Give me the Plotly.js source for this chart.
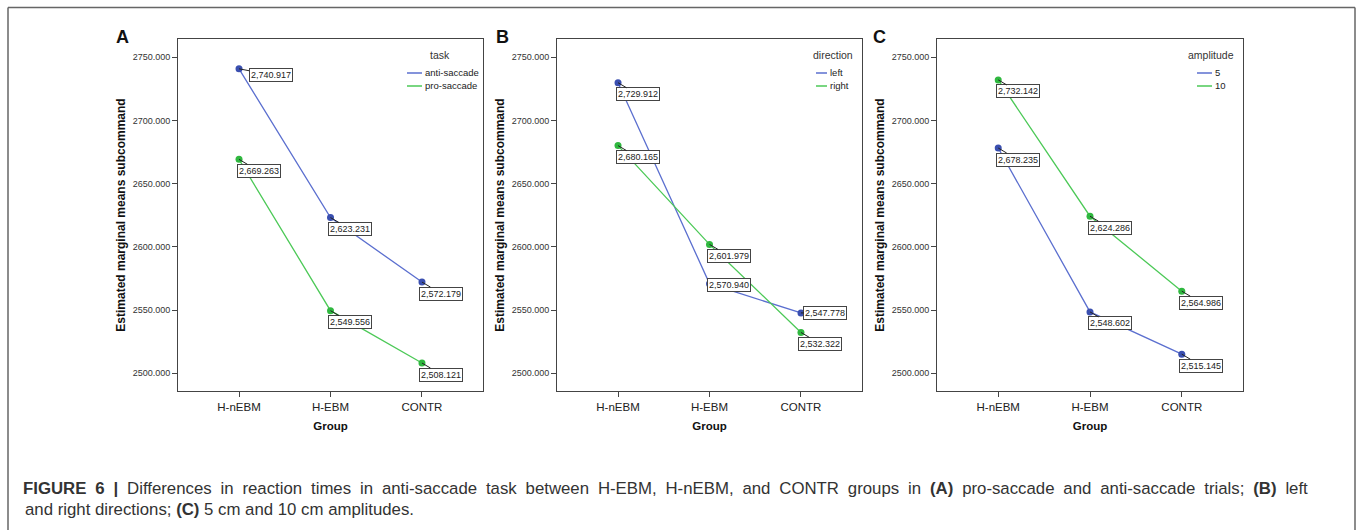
<!DOCTYPE html>
<html>
<head>
<meta charset="utf-8">
<script src="https://cdn.plot.ly/plotly-3.0.1.min.js"></script>
<style>
  html, body { margin: 0; padding: 0; background: #fff; }
  #chart { width: 1357px; height: 530px; }
</style>
</head>
<body>
<div id="chart"></div>
<script>
// ---------- data ----------
const groups = ['H-nEBM', 'H-EBM', 'CONTR'];
const taskAnti = [2740.917, 2623.231, 2572.179];
const taskPro = [2669.263, 2549.556, 2508.121];
const dirLeft = [2729.912, 2570.940, 2547.778];
const dirRight = [2680.165, 2601.979, 2532.322];
const amp5 = [2678.235, 2548.602, 2515.145];
const amp10 = [2732.142, 2624.286, 2564.986];
const yTickVals = [2500, 2550, 2600, 2650, 2700, 2750];

const panelLetters = ['A', 'B', 'C'];
const legendTitles = ['task', 'direction', 'amplitude'];
const seriesNames = [['anti-saccade', 'pro-saccade'], ['left', 'right'], ['5', '10']];
const seriesValues = [[taskAnti, taskPro], [dirLeft, dirRight], [amp5, amp10]];
const xTitle = 'Group';
const yTitle = 'Estimated marginal means subcommand';
const captionLine1 = '<b>FIGURE 6 |</b> Differences in reaction times in anti-saccade task between H-EBM, H-nEBM, and CONTR groups in <b>(A)</b> pro-saccade and anti-saccade trials; <b>(B)</b> left';
const captionLine2 = 'and right directions; <b>(C)</b> 5 cm and 10 cm amplitudes.';

// ---------- layout / style ----------
const W = 1357, H = 530;
const px = v => v / W;
const py = v => 1 - v / H;
const FONT = 'Liberation Sans, Arial, sans-serif';
const lineColors = ['#5b6fcf', '#4cc957'];
const markerColors = ['#3a4fb0', '#2fb83f'];
const domainsX = [[178, 483], [557, 862], [937, 1243]];
const domainY = [py(391), py(39)];
const letterX = [122, 502, 880];
// manual legend geometry (px): title centre x, swatch start x
const legendTitleX = [440, 833, 1211];
const legendSwatchX = [407, 816, 1197];
const legendSwatchLen = [15, 11, 15];
const legendTitleY = 55, legendRowY = [73, 86];
// label offsets (px) relative to the point: [panel][series][group]
const defOff = [19.5, 11.5];
const labelOffsets = [
  [[[31.5, 6], defOff, defOff], [defOff, defOff, defOff]],
  [[defOff, [19, 1.5], [24.5, 0]], [defOff, defOff, defOff]],
  [[defOff, defOff, defOff], [defOff, defOff, defOff]]
];
const captionLeft = 23, captionRight = 1308;

const fmt = v => v.toLocaleString('en-US', {minimumFractionDigits: 3, maximumFractionDigits: 3});

const traces = [];
const annotations = [];
const shapes = [
  {type: 'line', xref: 'paper', yref: 'paper', x0: px(8), x1: px(1355), y0: py(7.5), y1: py(7.5), line: {color: '#666', width: 1.5}},
  {type: 'line', xref: 'paper', yref: 'paper', x0: px(8), x1: px(8), y0: py(7.5), y1: 0, line: {color: '#666', width: 1.5}},
  {type: 'line', xref: 'paper', yref: 'paper', x0: px(1355), x1: px(1355), y0: py(7.5), y1: 0, line: {color: '#666', width: 1.5}}
];
const layout = {
  width: W, height: H,
  margin: {l: 0, r: 0, t: 0, b: 0},
  paper_bgcolor: '#fff', plot_bgcolor: '#fff',
  font: {family: FONT, color: '#222'},
  showlegend: false
};

for (let p = 0; p < 3; p++) {
  const xa = p === 0 ? 'x' : 'x' + (p + 1);
  const ya = p === 0 ? 'y' : 'y' + (p + 1);
  const xKey = p === 0 ? 'xaxis' : 'xaxis' + (p + 1);
  const yKey = p === 0 ? 'yaxis' : 'yaxis' + (p + 1);

  layout[xKey] = {
    domain: [px(domainsX[p][0]), px(domainsX[p][1])],
    anchor: ya,
    type: 'category',
    categoryarray: groups,
    range: [-0.667, 2.667],
    showline: true, mirror: true, linecolor: '#444', linewidth: 1,
    ticks: 'outside', ticklen: 5, tickcolor: '#444',
    showgrid: false, zeroline: false,
    tickfont: {family: FONT, size: 11.5, color: '#222'},
    title: {text: xTitle, font: {family: FONT, size: 11.5, color: '#111', weight: 700}, standoff: 10}
  };
  layout[yKey] = {
    domain: domainY,
    anchor: xa,
    range: [2486, 2764.5],
    tickvals: yTickVals,
    tickformat: '.3f',
    showline: true, mirror: true, linecolor: '#444', linewidth: 1,
    ticks: 'outside', ticklen: 5, tickcolor: '#444',
    showgrid: false, zeroline: false,
    tickfont: {family: FONT, size: 9, color: '#333'},
    title: {text: yTitle, font: {family: FONT, size: 12, color: '#111', weight: 700}, standoff: 4}
  };

  for (let s = 0; s < 2; s++) {
    const vals = seriesValues[p][s];
    traces.push({
      type: 'scatter', mode: 'lines+markers',
      x: groups, y: vals,
      xaxis: xa, yaxis: ya,
      name: seriesNames[p][s],
      line: {color: lineColors[s], width: 1.3},
      marker: {color: markerColors[s], size: 7},
      hoverinfo: 'skip'
    });
    for (let g = 0; g < groups.length; g++) {
      const off = labelOffsets[p][s][g];
      annotations.push({
        xref: xa, yref: ya, x: groups[g], y: vals[g],
        text: fmt(vals[g]),
        showarrow: true, arrowhead: 0, arrowwidth: 1, arrowcolor: '#222',
        ax: off[0], ay: off[1], standoff: 0,
        bgcolor: '#fff', bordercolor: '#444', borderwidth: 1, borderpad: 1,
        font: {family: FONT, size: 9, color: '#222'}
      });
    }
    // manual legend entry
    shapes.push({
      type: 'line', xref: 'paper', yref: 'paper',
      x0: px(legendSwatchX[p]), x1: px(legendSwatchX[p] + legendSwatchLen[p]),
      y0: py(legendRowY[s]), y1: py(legendRowY[s]),
      line: {color: lineColors[s], width: 1.5}
    });
    annotations.push({
      xref: 'paper', yref: 'paper',
      x: px(legendSwatchX[p] + legendSwatchLen[p] + 1), y: py(legendRowY[s]),
      xanchor: 'left', yanchor: 'middle', showarrow: false,
      text: seriesNames[p][s],
      font: {family: FONT, size: 9.5, color: '#222'}
    });
  }

  annotations.push({
    xref: 'paper', yref: 'paper', x: px(legendTitleX[p]), y: py(legendTitleY),
    xanchor: 'center', yanchor: 'middle', showarrow: false,
    text: legendTitles[p],
    font: {family: FONT, size: 10.5, color: '#333'}
  });

  annotations.push({
    xref: 'paper', yref: 'paper', x: px(letterX[p]), y: py(37),
    xanchor: 'center', yanchor: 'middle', showarrow: false,
    text: '<b>' + panelLetters[p] + '</b>',
    font: {family: FONT, size: 18, color: '#111'}
  });
}

const capIdx = annotations.length;
annotations.push({
  xref: 'paper', yref: 'paper', x: px(captionLeft), y: py(488),
  xanchor: 'left', yanchor: 'middle', showarrow: false,
  text: captionLine1, font: {family: FONT, size: 16.8, color: '#333'}
});
annotations.push({
  xref: 'paper', yref: 'paper', x: px(captionLeft), y: py(509),
  xanchor: 'left', yanchor: 'middle', showarrow: false,
  text: captionLine2, font: {family: FONT, size: 16.8, color: '#333'}
});

layout.annotations = annotations;
layout.shapes = shapes;

Plotly.newPlot('chart', traces, layout, {displayModeBar: false, staticPlot: true}).then(gd => {
  // justify the first caption line (as in the printed figure) with word spacing
  const t = gd.querySelector('.annotation[data-index="' + capIdx + '"] text.annotation-text');
  if (t) {
    const origin = gd.getBoundingClientRect().left;
    const r0 = t.getBoundingClientRect();
    const spaces = (t.textContent.match(/ /g) || []).length;
    const extra = (captionRight - captionLeft - r0.width) / spaces;
    if (extra > 0 && extra < 10) {
      t.style.wordSpacing = extra.toFixed(2) + 'px';
      const r1 = t.getBoundingClientRect();
      const shift = (captionLeft + origin) - r1.left;
      const prev = t.getAttribute('transform') || '';
      t.setAttribute('transform', prev + ' translate(' + shift.toFixed(2) + ',0)');
    }
  }
});
</script>
</body>
</html>
